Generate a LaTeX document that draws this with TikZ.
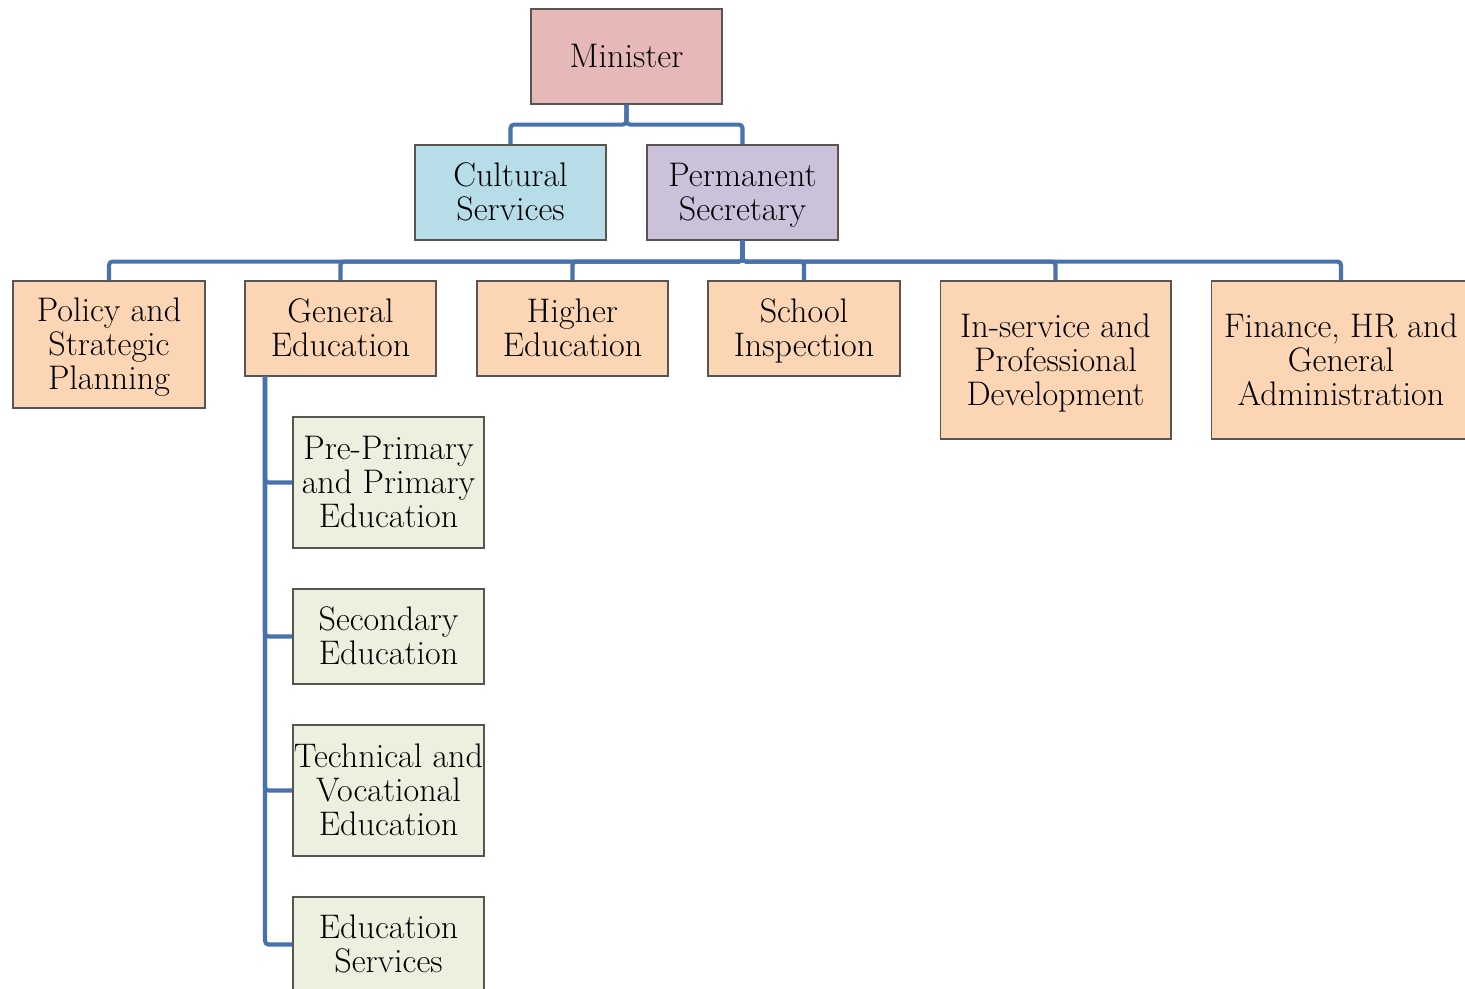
\documentclass[tikz,border=0pt]{standalone}
\usepackage{tikz}

\definecolor{minred}{RGB}{230,185,184}
\definecolor{culblue}{RGB}{183,222,232}
\definecolor{pslilac}{RGB}{204,193,218}
\definecolor{deporange}{RGB}{252,213,181}
\definecolor{subgreen}{RGB}{235,241,222}
\definecolor{linkblue}{RGB}{71,114,172}
\definecolor{boxedge}{RGB}{90,84,80}

\newcommand{\unitlines}[1]{\begin{tabular}{@{}c@{}}\rule{0pt}{18.8pt}#1\strut\end{tabular}}

\begin{document}
\begin{tikzpicture}
[x=0.02cm,y=-0.02cm,
every node/.style={shape=rectangle,draw=boxedge,line width=0.6pt,inner sep=0pt,
  font=\fontsize{19.4}{19.4}\selectfont},
unit/.style={minimum width=3.82cm,minimum height=1.9cm},
link/.style={draw=linkblue,line width=2.3pt,rounded corners=2pt}]

\useasboundingbox (0,0) rectangle (1465,988);

% top
\node[unit,fill=minred] (min) at (626.5,56.5) {\unitlines{Minister}};
\node[unit,fill=culblue] (cul) at (510.5,192.5) {\unitlines{Cultural\\Services}};
\node[unit,fill=pslilac] (ps) at (742.5,192.5) {\unitlines{Permanent\\Secretary}};

% departments
\node[unit,fill=deporange,minimum width=3.84cm,minimum height=2.54cm] (pol) at (109,344.5) {\unitlines{Policy and\\Strategic\\Planning}};
\node[unit,fill=deporange] (ge) at (340.5,328.5) {\unitlines{General\\Education}};
\node[unit,fill=deporange] (he) at (572.5,328.5) {\unitlines{Higher\\Education}};
\node[unit,fill=deporange,minimum width=3.84cm] (si) at (804,328.5) {\unitlines{School\\Inspection}};
\node[unit,fill=deporange,minimum width=4.62cm,minimum height=3.16cm] (isp) at (1055.5,360) {\unitlines{In-service and\\Professional\\Development}};
\node[unit,fill=deporange,minimum width=5.2cm,minimum height=3.16cm] (fin) at (1341,360) {\unitlines{Finance, HR and\\General\\Administration}};

% general education units
\node[unit,fill=subgreen,minimum height=2.62cm] (ppe) at (388.5,482.5) {\unitlines{Pre-Primary\\and Primary\\Education}};
\node[unit,fill=subgreen] (sec) at (388.5,636.5) {\unitlines{Secondary\\Education}};
\node[unit,fill=subgreen,minimum height=2.62cm] (tve) at (388.5,790.5) {\unitlines{Technical and\\Vocational\\Education}};
\node[unit,fill=subgreen] (eds) at (388.5,944.5) {\unitlines{Education\\Services}};

\draw[link] (min.south) -- ++(0,20) -| (cul.north);
\draw[link] (min.south) -- ++(0,20) -| (ps.north);
\foreach \d in {pol,ge,he,si,isp,fin}
	\draw[link] (ps.south) -- ++(0,21) -| (\d.north);
\foreach \s in {ppe,sec,tve,eds}
	\draw[link] ([xshift=-1.51cm]ge.south) |- (\s.west);
\end{tikzpicture}
\end{document}
